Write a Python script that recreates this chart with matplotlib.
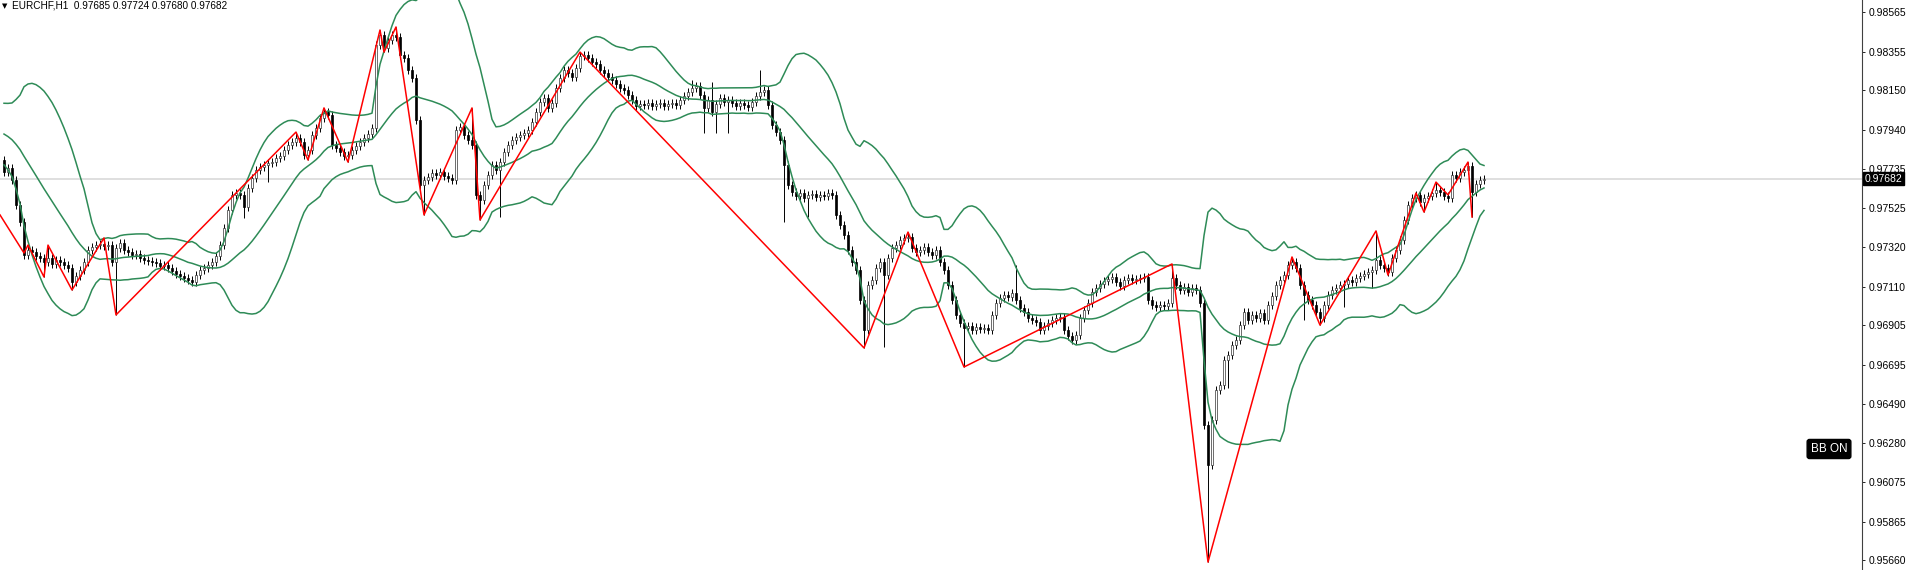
import matplotlib
matplotlib.use("Agg")
import matplotlib.pyplot as plt
import matplotlib.transforms as mtransforms
import numpy as np
import pandas as pd


OUT_FILE = "out.png"

SYMBOL = "EURCHF,H1"
LAST_OHLC = [0.97685, 0.97724, 0.97680, 0.97682]

# warm-up bars left of the visible window (only feed the bollinger bands)
pre_closes = [
    0.98004, 0.98014, 0.98019, 0.98009, 0.97993, 0.97982, 0.97967, 0.97972, 0.97956, 0.97940,
    0.97924, 0.97913, 0.97898, 0.97887, 0.97871, 0.97855, 0.97845, 0.97823, 0.97781,
]

closes = [
    0.97717, 0.97739, 0.97675, 0.97542, 0.97452, 0.97277, 0.97304, 0.97293, 0.97272, 0.97262,
    0.97240, 0.97262, 0.97230, 0.97251, 0.97240, 0.97224, 0.97209, 0.97134, 0.97166, 0.97198,
    0.97240, 0.97304, 0.97320, 0.97330, 0.97336, 0.97325, 0.97330, 0.97240, 0.97315, 0.97341,
    0.97304, 0.97293, 0.97277, 0.97283, 0.97262, 0.97251, 0.97246, 0.97240, 0.97235, 0.97219,
    0.97224, 0.97209, 0.97193, 0.97177, 0.97166, 0.97156, 0.97145, 0.97134, 0.97171, 0.97198,
    0.97209, 0.97224, 0.97240, 0.97272, 0.97330, 0.97421, 0.97516, 0.97595, 0.97606, 0.97595,
    0.97532, 0.97633, 0.97686, 0.97728, 0.97744, 0.97754, 0.97765, 0.97770, 0.97792, 0.97802,
    0.97834, 0.97860, 0.97876, 0.97898, 0.97876, 0.97807, 0.97834, 0.97913, 0.97951, 0.98004,
    0.98035, 0.98019, 0.97860, 0.97845, 0.97823, 0.97802, 0.97807, 0.97834, 0.97855, 0.97876,
    0.97898, 0.97919, 0.97951, 0.98390, 0.98443, 0.98375, 0.98417, 0.98443, 0.98433, 0.98337,
    0.98322, 0.98258, 0.98216, 0.97993, 0.97648, 0.97675, 0.97691, 0.97712, 0.97701, 0.97717,
    0.97696, 0.97686, 0.97675, 0.97940, 0.97956, 0.97913, 0.97887, 0.97860, 0.97595, 0.97569,
    0.97648, 0.97701, 0.97754, 0.97728, 0.97770, 0.97823, 0.97860, 0.97887, 0.97903, 0.97913,
    0.97924, 0.97940, 0.97982, 0.98035, 0.98088, 0.98110, 0.98057, 0.98083, 0.98163, 0.98216,
    0.98258, 0.98242, 0.98221, 0.98269, 0.98332, 0.98337, 0.98322, 0.98300, 0.98290, 0.98258,
    0.98242, 0.98221, 0.98205, 0.98184, 0.98163, 0.98152, 0.98126, 0.98099, 0.98067, 0.98078,
    0.98073, 0.98083, 0.98067, 0.98078, 0.98083, 0.98067, 0.98078, 0.98083, 0.98073, 0.98099,
    0.98120, 0.98141, 0.98163, 0.98173, 0.98126, 0.98057, 0.98099, 0.98035, 0.98078, 0.98110,
    0.98088, 0.98099, 0.98083, 0.98067, 0.98083, 0.98073, 0.98062, 0.98088, 0.98120, 0.98141,
    0.98152, 0.98073, 0.97967, 0.97929, 0.97887, 0.97754, 0.97648, 0.97611, 0.97590, 0.97606,
    0.97580, 0.97595, 0.97601, 0.97585, 0.97595, 0.97590, 0.97606, 0.97595, 0.97490, 0.97437,
    0.97384, 0.97304, 0.97240, 0.97198, 0.97039, 0.96880, 0.97119, 0.97145, 0.97209, 0.97240,
    0.97171, 0.97262, 0.97315, 0.97330, 0.97357, 0.97368, 0.97373, 0.97315, 0.97293, 0.97304,
    0.97320, 0.97293, 0.97277, 0.97304, 0.97240, 0.97198, 0.97119, 0.97039, 0.96960, 0.96917,
    0.96891, 0.96901, 0.96880, 0.96896, 0.96885, 0.96891, 0.96880, 0.96960, 0.97023, 0.97050,
    0.97066, 0.97055, 0.97076, 0.97039, 0.96997, 0.96975, 0.96944, 0.96933, 0.96922, 0.96880,
    0.96901, 0.96917, 0.96933, 0.96944, 0.96949, 0.96880, 0.96848, 0.96827, 0.96854, 0.96944,
    0.96986, 0.97023, 0.97081, 0.97103, 0.97124, 0.97140, 0.97150, 0.97161, 0.97134, 0.97113,
    0.97145, 0.97156, 0.97145, 0.97150, 0.97156, 0.97161, 0.97039, 0.97012, 0.97002, 0.97012,
    0.97007, 0.97023, 0.97156, 0.97119, 0.97092, 0.97108, 0.97081, 0.97103, 0.97092, 0.97023,
    0.96376, 0.96164, 0.96403, 0.96562, 0.96588, 0.96721, 0.96747, 0.96800, 0.96827, 0.96906,
    0.96975, 0.96933, 0.96960, 0.96944, 0.96970, 0.96933, 0.97012, 0.97060, 0.97119, 0.97145,
    0.97171, 0.97224, 0.97240, 0.97209, 0.97119, 0.97066, 0.97039, 0.97012, 0.96975, 0.96944,
    0.97012, 0.97066, 0.97092, 0.97103, 0.97119, 0.97124, 0.97145, 0.97134, 0.97156, 0.97166,
    0.97177, 0.97187, 0.97198, 0.97251, 0.97224, 0.97209, 0.97187, 0.97262, 0.97304, 0.97357,
    0.97463, 0.97542, 0.97580, 0.97595, 0.97558, 0.97580, 0.97590, 0.97606, 0.97622, 0.97611,
    0.97590, 0.97580, 0.97701, 0.97686, 0.97717, 0.97728, 0.97749, 0.97611, 0.97654, 0.97675,
    0.97682,
]

# long wicks that stick out of the bodies (bar index -> price)
wick_highs = {172: 0.98205, 177: 0.98194, 189: 0.98258, 253: 0.97225}
wick_lows = {
    47: 0.97140, 60: 0.97474, 66: 0.97664, 124: 0.97479, 175: 0.97924, 178: 0.97924,
    181: 0.97924, 195: 0.97452, 201: 0.97479, 220: 0.96790, 306: 0.96573, 325: 0.96933,
    335: 0.97002, 342: 0.97103,
}

zigzag_bars = [
    -1, 5, 6, 10, 11, 17, 25, 28, 73, 76, 80, 86, 94, 95, 98, 105, 117, 119, 144,
    215, 226, 240, 292, 301, 322, 329, 343, 346, 353, 355, 358, 361, 366, 367,
]
zigzag_prices = [
    0.97490, 0.97288, 0.97330, 0.97161, 0.97330, 0.97092, 0.97368, 0.96960, 0.97929,
    0.97781, 0.98057, 0.97770, 0.98470, 0.98353, 0.98486, 0.97490, 0.98057, 0.97463,
    0.98353, 0.96785, 0.97399, 0.96684, 0.97230, 0.95650, 0.97267, 0.96906, 0.97405,
    0.97171, 0.97606, 0.97505, 0.97664, 0.97596, 0.97770, 0.97479,
]

tick_values = [
    0.98565, 0.98355, 0.98150, 0.97940, 0.97735, 0.97525, 0.97320, 0.97110,
    0.96905, 0.96695, 0.96490, 0.96280, 0.96075, 0.95865, 0.95660,
]
tick_labels = ["{:.5f}".format(v) for v in tick_values]

BB_PERIOD = 20
BB_DEV = 2.0
WICK = 0.00020
FONT = "Liberation Sans"
GREEN = "#2e8b57"


def build_ohlc():
    c = np.array(closes)
    o = np.concatenate([[pre_closes[-1]], c[:-1]])
    h = np.maximum(o, c) + WICK
    l = np.minimum(o, c) - WICK
    for i, v in wick_highs.items():
        h[i] = max(h[i], v)
    for i, v in wick_lows.items():
        l[i] = min(l[i], v)
    for i, v in zip(zigzag_bars, zigzag_prices):
        if 0 <= i < len(c):
            h[i] = max(h[i], v)
            l[i] = min(l[i], v)
    return o, h, l, c


def bollinger():
    series = pd.Series(pre_closes + closes)
    mid = series.rolling(BB_PERIOD).mean()
    std = series.rolling(BB_PERIOD).std(ddof=0)
    n = len(pre_closes)
    return mid[n:].values, (mid + BB_DEV * std)[n:].values, (mid - BB_DEV * std)[n:].values


def main():
    o, h, l, c = build_ohlc()
    x = np.arange(len(c))
    mid, upper, lower = bollinger()

    fig = plt.figure(figsize=(19.11, 5.70), dpi=100)
    ax = fig.add_axes([0, 0, 1862 / 1911, 1])
    ax.set_xlim(-1, 464.5)
    ax.set_ylim(0.95608, 0.98629)

    # current price line
    ax.axhline(LAST_OHLC[3], color="#d9d9d9", linewidth=1.2, zorder=1)

    bull = c >= o
    ax.vlines(x, l, h, color="black", linewidth=0.7, zorder=2)
    ax.bar(x[bull], (c - o)[bull], bottom=o[bull], width=0.65,
           color="white", edgecolor="#333333", linewidth=0.5, zorder=2.5)
    ax.bar(x[~bull], (o - c)[~bull], bottom=c[~bull], width=0.65,
           color="black", edgecolor="black", linewidth=0.5, zorder=2.5)

    for band in (upper, mid, lower):
        ax.plot(x, band, color=GREEN, linewidth=1.1, zorder=3)

    ax.plot(zigzag_bars, zigzag_prices, color="#ff0000", linewidth=1.1, zorder=4)

    for side in ("top", "left", "bottom"):
        ax.spines[side].set_visible(False)
    ax.spines["right"].set_linewidth(0.8)
    ax.spines["right"].set_color("#404040")
    ax.set_xticks([])
    ax.yaxis.tick_right()
    ax.set_yticks(tick_values)
    ax.set_yticklabels(tick_labels, fontsize=7.5, family=FONT)
    ax.tick_params(axis="y", direction="out", length=2.5, width=0.6, pad=2,
                   colors="black")

    # price tag on the axis
    trans = mtransforms.blended_transform_factory(ax.transAxes, ax.transData)
    ax.text(1.0015, LAST_OHLC[3], "{:.5f}".format(LAST_OHLC[3]), transform=trans,
            fontsize=7.5, family=FONT, color="white", ha="left", va="center",
            bbox=dict(boxstyle="square,pad=0.15", facecolor="black", edgecolor="black"),
            zorder=10, clip_on=False)

    header = "{}  {:.5f} {:.5f} {:.5f} {:.5f}".format(SYMBOL, *LAST_OHLC)
    fig.text(2 / 1911, 1 - 6 / 570, "\u25bc", fontsize=5, family="DejaVu Sans",
             ha="left", va="center", color="black")
    fig.text(12 / 1911, 1 - 6 / 570, header, fontsize=7.2, family=FONT,
             ha="left", va="center", color="black")

    fig.text(1829 / 1911, 1 - 449 / 570, "BB ON", fontsize=8.5, family=FONT,
             color="white", ha="center", va="center",
             bbox=dict(boxstyle="round,pad=0.3,rounding_size=0.2",
                       facecolor="black", edgecolor="black"))

    fig.savefig(OUT_FILE, dpi=100, facecolor="white")
    plt.close(fig)


if __name__ == "__main__":
    main()
